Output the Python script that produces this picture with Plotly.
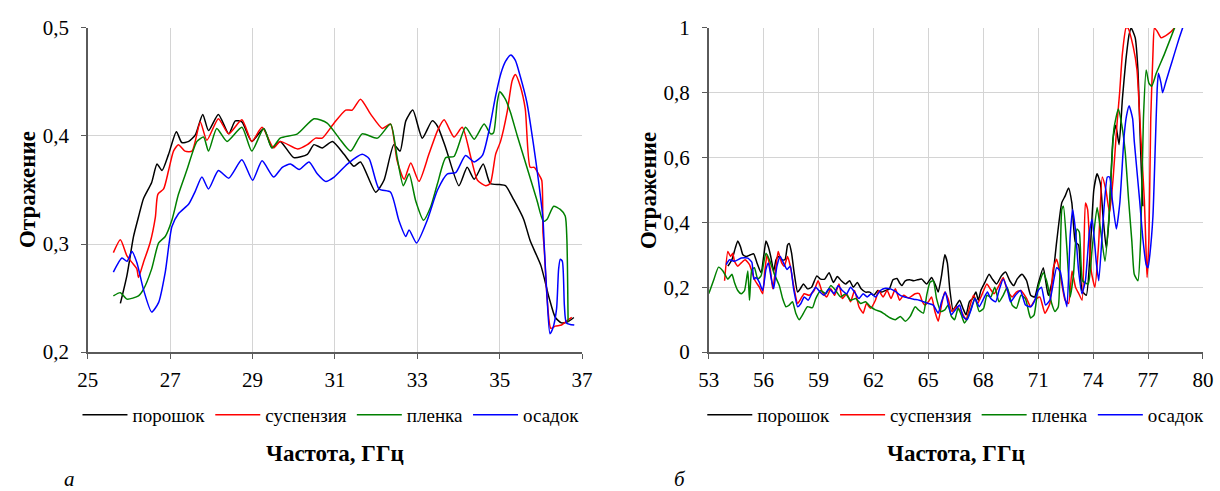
import plotly.graph_objects as go

# ---- Panel "а": 25-37 GHz ----
a_por_f = [25.79, 25.95, 26.11, 26.23, 26.35, 26.55, 26.68, 26.80, 26.96, 27.15, 27.28, 27.45, 27.61, 27.79, 27.93, 28.17, 28.42, 28.58, 28.74, 28.98, 29.27, 29.47, 29.67, 30.0, 30.33, 30.49, 30.69, 30.94, 31.22, 31.46, 31.62, 31.99, 32.19, 32.43, 32.58, 32.72, 32.89, 33.12, 33.36, 33.49, 33.69, 34.01, 34.21, 34.38, 34.60, 34.77, 35.0, 35.14, 35.34, 35.58, 35.74, 36.0, 36.2, 36.35, 36.5, 36.65, 36.8]
a_por_v = [0.245, 0.271, 0.307, 0.325, 0.342, 0.357, 0.374, 0.368, 0.383, 0.404, 0.394, 0.395, 0.401, 0.420, 0.405, 0.420, 0.402, 0.414, 0.413, 0.395, 0.407, 0.389, 0.395, 0.380, 0.383, 0.392, 0.389, 0.395, 0.383, 0.372, 0.376, 0.348, 0.359, 0.392, 0.386, 0.414, 0.424, 0.398, 0.414, 0.409, 0.389, 0.354, 0.371, 0.360, 0.374, 0.356, 0.355, 0.354, 0.341, 0.323, 0.303, 0.28, 0.25, 0.232, 0.227, 0.228, 0.232]

a_sus_f = [25.62, 25.79, 25.95, 26.07, 26.19, 26.23, 26.35, 26.51, 26.64, 26.70, 26.84, 26.96, 27.08, 27.20, 27.36, 27.53, 27.73, 27.89, 28.17, 28.42, 28.74, 28.98, 29.23, 29.51, 29.67, 30.09, 30.33, 30.53, 30.69, 30.98, 31.26, 31.42, 31.62, 31.87, 32.15, 32.35, 32.51, 32.68, 32.84, 33.04, 33.28, 33.49, 33.65, 33.89, 34.09, 34.30, 34.46, 34.66, 34.77, 34.90, 35.02, 35.18, 35.30, 35.38, 35.50, 35.62, 35.74, 35.84, 35.94, 36.02, 36.05, 36.08, 36.15, 36.24, 36.35, 36.5, 36.6, 36.75]
a_sus_v = [0.292, 0.304, 0.289, 0.283, 0.277, 0.269, 0.283, 0.301, 0.325, 0.346, 0.351, 0.368, 0.386, 0.392, 0.386, 0.386, 0.413, 0.396, 0.416, 0.402, 0.415, 0.395, 0.408, 0.389, 0.395, 0.388, 0.392, 0.398, 0.398, 0.412, 0.424, 0.424, 0.434, 0.420, 0.407, 0.411, 0.377, 0.360, 0.375, 0.358, 0.383, 0.405, 0.415, 0.399, 0.408, 0.380, 0.359, 0.354, 0.356, 0.383, 0.395, 0.422, 0.451, 0.457, 0.446, 0.425, 0.371, 0.371, 0.365, 0.359, 0.311, 0.296, 0.25, 0.222, 0.224, 0.225, 0.228, 0.232]

a_pl_f = [25.62, 25.79, 25.95, 26.23, 26.35, 26.55, 26.72, 26.88, 27.04, 27.20, 27.40, 27.65, 27.81, 27.93, 28.13, 28.38, 28.74, 28.98, 29.27, 29.47, 29.67, 30.09, 30.49, 30.81, 31.10, 31.38, 31.66, 32.03, 32.35, 32.51, 32.66, 32.80, 32.96, 33.15, 33.32, 33.49, 33.69, 33.89, 34.17, 34.38, 34.62, 34.78, 34.85, 34.94, 35.0, 35.14, 35.26, 35.42, 35.66, 35.90, 36.06, 36.15, 36.31, 36.47, 36.59, 36.63, 36.66]
a_pl_v = [0.252, 0.255, 0.249, 0.252, 0.258, 0.277, 0.301, 0.307, 0.322, 0.346, 0.368, 0.395, 0.399, 0.386, 0.407, 0.395, 0.408, 0.386, 0.407, 0.389, 0.398, 0.402, 0.416, 0.412, 0.398, 0.386, 0.402, 0.398, 0.411, 0.380, 0.354, 0.365, 0.340, 0.322, 0.334, 0.356, 0.380, 0.381, 0.408, 0.397, 0.411, 0.402, 0.403, 0.431, 0.441, 0.434, 0.422, 0.401, 0.371, 0.341, 0.321, 0.323, 0.335, 0.332, 0.326, 0.305, 0.228]

a_os_f = [25.62, 25.83, 25.95, 26.07, 26.19, 26.35, 26.55, 26.72, 26.88, 27.04, 27.20, 27.45, 27.61, 27.77, 27.93, 28.17, 28.42, 28.74, 29.0, 29.23, 29.51, 29.72, 29.92, 30.13, 30.37, 30.57, 30.77, 30.98, 31.30, 31.66, 31.83, 32.07, 32.35, 32.55, 32.72, 32.80, 32.98, 33.24, 33.49, 33.73, 33.93, 34.17, 34.38, 34.58, 34.74, 34.90, 35.03, 35.14, 35.27, 35.38, 35.50, 35.66, 35.82, 35.94, 36.05, 36.08, 36.15, 36.22, 36.29, 36.38, 36.43, 36.47, 36.52, 36.57, 36.62, 36.81]
a_os_v = [0.274, 0.287, 0.284, 0.293, 0.283, 0.258, 0.237, 0.246, 0.274, 0.316, 0.328, 0.337, 0.349, 0.362, 0.351, 0.368, 0.361, 0.378, 0.359, 0.377, 0.362, 0.371, 0.374, 0.369, 0.376, 0.365, 0.358, 0.362, 0.374, 0.383, 0.379, 0.351, 0.348, 0.322, 0.307, 0.313, 0.301, 0.322, 0.350, 0.365, 0.366, 0.382, 0.376, 0.382, 0.405, 0.437, 0.458, 0.469, 0.475, 0.470, 0.455, 0.431, 0.392, 0.359, 0.323, 0.299, 0.25, 0.217, 0.222, 0.24, 0.277, 0.286, 0.284, 0.243, 0.227, 0.225]

# ---- Panel "б": 53-80 GHz ----
b_por_f = [54.05, 54.27, 54.45, 54.59, 54.74, 54.87, 55.05, 55.28, 55.46, 55.64, 55.86, 56.04, 56.13, 56.26, 56.41, 56.55, 56.68, 56.8, 56.99, 57.17, 57.31, 57.4, 57.53, 57.67, 57.86, 58.0, 58.18, 58.4, 58.62, 58.91, 59.12, 59.34, 59.58, 59.81, 60.03, 60.25, 60.48, 60.7, 60.9, 61.12, 61.33, 61.57, 61.8, 62.02, 62.24, 62.44, 62.66, 62.87, 63.07, 63.29, 63.43, 63.56, 63.74, 63.98, 64.2, 64.41, 64.64, 64.91, 65.18, 65.4, 65.54, 65.72, 65.9, 66.04, 66.17, 66.35, 66.53, 66.71, 66.89, 67.06, 67.24, 67.42, 67.6, 67.73, 67.87, 68.09, 68.32, 68.5, 68.73, 68.99, 69.22, 69.45, 69.67, 69.85, 70.12, 70.37, 70.59, 70.81, 71.0, 71.28, 71.55, 71.77, 72.01, 72.29, 72.47, 72.66, 72.84, 73.03, 73.21, 73.39, 73.63, 73.85, 74.04, 74.22, 74.4, 74.54, 74.72, 74.87, 75.09, 75.24, 75.42, 75.6, 75.79, 75.97, 76.08, 76.3, 76.45, 76.54, 76.63, 76.72]
b_por_v = [0.265, 0.285, 0.32, 0.343, 0.325, 0.30, 0.295, 0.30, 0.303, 0.275, 0.245, 0.31, 0.343, 0.325, 0.29, 0.25, 0.285, 0.295, 0.285, 0.285, 0.33, 0.335, 0.305, 0.245, 0.185, 0.195, 0.21, 0.195, 0.20, 0.235, 0.225, 0.225, 0.245, 0.215, 0.233, 0.22, 0.21, 0.22, 0.20, 0.215, 0.195, 0.185, 0.185, 0.175, 0.19, 0.185, 0.19, 0.195, 0.223, 0.227, 0.213, 0.205, 0.22, 0.223, 0.22, 0.223, 0.225, 0.21, 0.23, 0.205, 0.185, 0.235, 0.30, 0.275, 0.195, 0.13, 0.145, 0.16, 0.135, 0.115, 0.155, 0.165, 0.185, 0.16, 0.19, 0.215, 0.24, 0.225, 0.21, 0.235, 0.247, 0.22, 0.205, 0.225, 0.24, 0.22, 0.175, 0.17, 0.21, 0.26, 0.175, 0.22, 0.34, 0.461, 0.481, 0.506, 0.46, 0.34, 0.33, 0.19, 0.175, 0.32, 0.50, 0.55, 0.52, 0.42, 0.32, 0.41, 0.66, 0.70, 0.64, 0.78, 0.90, 0.98, 1.0, 0.97, 0.87, 0.72, 0.57, 0.45]

b_sus_f = [53.87, 54.05, 54.2, 54.32, 54.41, 54.59, 54.78, 54.99, 55.23, 55.41, 55.54, 55.77, 55.95, 56.08, 56.19, 56.37, 56.5, 56.68, 56.8, 56.99, 57.13, 57.31, 57.46, 57.64, 57.86, 58.04, 58.22, 58.49, 58.76, 58.98, 59.21, 59.45, 59.67, 59.88, 60.12, 60.3, 60.54, 60.75, 60.97, 61.21, 61.44, 61.62, 61.84, 62.11, 62.29, 62.53, 62.75, 62.96, 63.2, 63.43, 63.65, 63.92, 64.28, 64.5, 64.68, 64.82, 65.0, 65.18, 65.36, 65.54, 65.72, 65.9, 66.08, 66.29, 66.53, 66.8, 67.06, 67.24, 67.47, 67.69, 67.91, 68.2, 68.38, 68.59, 68.86, 69.09, 69.31, 69.58, 69.81, 70.06, 70.35, 70.59, 70.81, 71.09, 71.37, 71.64, 71.83, 72.01, 72.2, 72.47, 72.66, 72.85, 73.04, 73.22, 73.4, 73.58, 73.7, 73.9, 74.1, 74.3, 74.5, 74.7, 74.9, 75.1, 75.3, 75.45, 75.6, 75.8, 75.9, 76.2, 76.4, 76.6, 76.8, 76.9, 76.95, 77.05, 77.15, 77.27, 77.35, 77.5, 77.71, 78.07, 78.44, 78.6]
b_sus_v = [0.22, 0.31, 0.295, 0.305, 0.28, 0.265, 0.275, 0.285, 0.27, 0.24, 0.22, 0.20, 0.18, 0.255, 0.30, 0.255, 0.195, 0.265, 0.31, 0.275, 0.265, 0.295, 0.265, 0.205, 0.15, 0.165, 0.18, 0.175, 0.19, 0.22, 0.185, 0.17, 0.195, 0.175, 0.21, 0.165, 0.18, 0.155, 0.19, 0.14, 0.12, 0.15, 0.135, 0.16, 0.19, 0.17, 0.19, 0.165, 0.195, 0.16, 0.175, 0.167, 0.18, 0.18, 0.155, 0.145, 0.155, 0.17, 0.125, 0.095, 0.145, 0.185, 0.165, 0.125, 0.14, 0.125, 0.10, 0.135, 0.175, 0.15, 0.175, 0.21, 0.195, 0.18, 0.205, 0.23, 0.19, 0.17, 0.185, 0.19, 0.167, 0.14, 0.16, 0.17, 0.12, 0.15, 0.26, 0.286, 0.24, 0.16, 0.15, 0.25, 0.20, 0.18, 0.16, 0.46, 0.44, 0.25, 0.20, 0.33, 0.54, 0.50, 0.43, 0.54, 0.70, 0.80, 0.92, 1.0, 1.0, 0.94, 0.87, 0.67, 0.47, 0.30, 0.23, 0.35, 0.72, 0.92, 1.0, 0.99, 0.97, 0.98, 1.0, 1.02]

b_pl_f = [53.0, 53.05, 53.29, 53.54, 53.78, 54.05, 54.27, 54.41, 54.59, 54.78, 54.96, 55.14, 55.23, 55.36, 55.5, 55.68, 55.86, 56.13, 56.32, 56.59, 56.86, 57.04, 57.22, 57.4, 57.58, 57.76, 57.95, 58.13, 58.4, 58.67, 58.85, 59.12, 59.4, 59.67, 59.94, 60.21, 60.48, 60.75, 61.03, 61.3, 61.57, 61.84, 62.11, 62.38, 62.66, 62.93, 63.2, 63.47, 63.74, 64.01, 64.28, 64.46, 64.73, 64.91, 65.09, 65.27, 65.45, 65.68, 65.9, 66.08, 66.26, 66.44, 66.62, 66.8, 66.97, 67.15, 67.37, 67.55, 67.78, 68.02, 68.2, 68.41, 68.63, 68.86, 69.09, 69.31, 69.58, 69.81, 70.06, 70.3, 70.5, 70.59, 70.78, 71.0, 71.28, 71.46, 71.74, 71.92, 72.1, 72.29, 72.38, 72.57, 72.75, 72.93, 73.12, 73.25, 73.43, 73.73, 73.95, 74.22, 74.4, 74.65, 74.87, 75.14, 75.38, 75.57, 75.75, 75.94, 76.12, 76.25, 76.45, 76.6, 76.75, 76.9, 77.05, 77.2, 77.45, 77.9, 78.45, 78.6]
b_pl_v = [0.18, 0.187, 0.225, 0.262, 0.25, 0.225, 0.24, 0.215, 0.19, 0.18, 0.19, 0.25, 0.16, 0.255, 0.26, 0.225, 0.235, 0.305, 0.285, 0.24, 0.205, 0.165, 0.14, 0.145, 0.155, 0.12, 0.10, 0.115, 0.14, 0.137, 0.165, 0.19, 0.18, 0.205, 0.19, 0.17, 0.18, 0.16, 0.165, 0.15, 0.155, 0.14, 0.13, 0.125, 0.115, 0.105, 0.10, 0.11, 0.095, 0.11, 0.14, 0.13, 0.12, 0.175, 0.215, 0.22, 0.165, 0.125, 0.13, 0.145, 0.11, 0.10, 0.135, 0.115, 0.09, 0.105, 0.14, 0.167, 0.125, 0.135, 0.175, 0.17, 0.20, 0.155, 0.175, 0.20, 0.145, 0.135, 0.175, 0.165, 0.12, 0.105, 0.115, 0.20, 0.245, 0.22, 0.15, 0.125, 0.14, 0.44, 0.45, 0.32, 0.17, 0.24, 0.38, 0.37, 0.22, 0.21, 0.32, 0.446, 0.38, 0.28, 0.42, 0.69, 0.75, 0.70, 0.62, 0.47, 0.34, 0.24, 0.22, 0.35, 0.72, 0.87, 0.83, 0.82, 0.86, 0.92, 1.0, 1.02]

b_os_f = [53.96, 54.14, 54.41, 54.78, 55.14, 55.36, 55.47, 55.59, 55.77, 55.95, 56.13, 56.26, 56.41, 56.55, 56.73, 56.91, 57.09, 57.28, 57.46, 57.64, 57.86, 58.04, 58.22, 58.44, 58.67, 58.85, 59.09, 59.3, 59.58, 59.85, 60.07, 60.3, 60.54, 60.75, 60.97, 61.21, 61.44, 61.66, 61.88, 62.11, 62.38, 62.66, 62.93, 63.2, 63.47, 63.83, 64.2, 64.5, 64.74, 65.0, 65.27, 65.54, 65.72, 65.93, 66.08, 66.26, 66.47, 66.71, 66.89, 67.12, 67.33, 67.55, 67.78, 68.02, 68.23, 68.41, 68.68, 68.86, 69.09, 69.31, 69.49, 69.76, 70.03, 70.31, 70.59, 70.78, 71.0, 71.18, 71.4, 71.64, 72.01, 72.2, 72.38, 72.57, 72.75, 72.88, 73.03, 73.21, 73.39, 73.58, 73.8, 73.95, 74.17, 74.31, 74.54, 74.78, 74.9, 75.05, 75.27, 75.46, 75.7, 75.83, 75.97, 76.16, 76.25, 76.54, 76.72, 76.9, 77.0, 77.1, 77.27, 77.4, 77.5, 77.57, 77.71, 77.8, 77.98, 78.17, 78.44, 78.71, 78.89, 79.0]
b_os_v = [0.27, 0.285, 0.28, 0.29, 0.29, 0.277, 0.225, 0.23, 0.215, 0.19, 0.255, 0.275, 0.23, 0.195, 0.265, 0.295, 0.275, 0.255, 0.265, 0.195, 0.14, 0.15, 0.17, 0.16, 0.185, 0.20, 0.185, 0.175, 0.195, 0.18, 0.205, 0.19, 0.18, 0.20, 0.185, 0.165, 0.18, 0.17, 0.18, 0.17, 0.19, 0.197, 0.195, 0.187, 0.175, 0.168, 0.163, 0.16, 0.155, 0.15, 0.145, 0.12, 0.155, 0.185, 0.15, 0.115, 0.13, 0.145, 0.11, 0.10, 0.13, 0.165, 0.14, 0.165, 0.185, 0.165, 0.155, 0.19, 0.225, 0.195, 0.155, 0.175, 0.19, 0.145, 0.14, 0.155, 0.19, 0.20, 0.145, 0.16, 0.26, 0.25, 0.19, 0.14, 0.36, 0.44, 0.38, 0.25, 0.18, 0.22, 0.37, 0.41, 0.28, 0.22, 0.40, 0.54, 0.54, 0.47, 0.38, 0.46, 0.67, 0.73, 0.76, 0.72, 0.65, 0.47, 0.35, 0.27, 0.26, 0.30, 0.42, 0.64, 0.81, 0.86, 0.83, 0.80, 0.835, 0.87, 0.92, 0.97, 1.0, 1.02]

series_names = ["порошок", "суспензия", "пленка", "осадок"]
series_colors = ["#000000", "#ff0000", "#008000", "#0000ff"]

panel_a = [(a_por_f, a_por_v), (a_sus_f, a_sus_v), (a_pl_f, a_pl_v), (a_os_f, a_os_v)]
panel_b = [(b_por_f, b_por_v), (b_sus_f, b_sus_v), (b_pl_f, b_pl_v), (b_os_f, b_os_v)]

a_xticks = [25, 27, 29, 31, 33, 35, 37]
a_yticks = [0.2, 0.3, 0.4, 0.5]
b_xticks = [53, 56, 59, 62, 65, 68, 71, 74, 77, 80]
b_yticks = [0, 0.2, 0.4, 0.6, 0.8, 1]

SERIF = "Liberation Serif"
W, H = 1220, 491
# The page body keeps its 8 px margin, so the whole page is (W+16) x (H+16);
# layout positions below are given in final-image pixels and converted here.
BODY_MARGIN = 8
SX = W / (W + 2 * BODY_MARGIN)
SY = H / (H + 2 * BODY_MARGIN)

fig = go.Figure()
for (f, v), name, color in zip(panel_a, series_names, series_colors):
    fig.add_trace(go.Scatter(x=f, y=v, name=name, mode="lines",
                             line=dict(color=color, width=1.5, shape="spline", smoothing=0.6),
                             xaxis="x", yaxis="y", legend="legend"))
for (f, v), name, color in zip(panel_b, series_names, series_colors):
    fig.add_trace(go.Scatter(x=f, y=v, name=name, mode="lines",
                             line=dict(color=color, width=1.5, shape="spline", smoothing=0.5),
                             xaxis="x2", yaxis="y2", legend="legend2"))

def px_x(p):
    return (p / SX - BODY_MARGIN) / W

def px_y(p):
    return 1 - (p / SY - BODY_MARGIN) / H

axis_common = dict(showgrid=True, gridcolor="#d4d4d4", gridwidth=1,
                   showline=True, linecolor="#5a5a5a", linewidth=1.5,
                   ticks="outside", ticklen=5, tickcolor="#5a5a5a",
                   tickfont=dict(family=SERIF, size=21, color="#000000"),
                   zeroline=False, fixedrange=True)

y_dom = [px_y(354), px_y(24)]
legend_font = dict(family=SERIF, size=19, color="#000000")
fig.update_layout(
    width=W, height=H, autosize=False,
    margin=dict(l=0, r=0, t=0, b=0),
    paper_bgcolor="white", plot_bgcolor="white",
    separators=", ",
    font=dict(family=SERIF),
    xaxis=dict(domain=[px_x(86), px_x(582)], range=[25, 37], tickvals=a_xticks,
               anchor="y", ticklabelstandoff=3, **axis_common),
    yaxis=dict(domain=y_dom, range=[0.2, 0.5], tickvals=a_yticks,
               anchor="x", ticklabelstandoff=8, **axis_common),
    xaxis2=dict(domain=[px_x(709), px_x(1205)], range=[53, 80], tickvals=b_xticks,
                anchor="y2", ticklabelstandoff=3, **axis_common),
    yaxis2=dict(domain=y_dom, range=[0, 1], tickvals=b_yticks,
                anchor="x2", ticklabelstandoff=8, **axis_common),
    legend=dict(orientation="h", x=px_x(330), xanchor="center", y=px_y(418), yanchor="middle",
                font=legend_font, bgcolor="rgba(0,0,0,0)", itemwidth=45),
    legend2=dict(orientation="h", x=px_x(957), xanchor="center", y=px_y(418), yanchor="middle",
                 font=legend_font, bgcolor="rgba(0,0,0,0)", itemwidth=45),
    showlegend=True,
)

title_font = dict(family=SERIF, size=23, color="#000000")
annotations = [
    dict(text="<b>Частота, ГГц</b>", x=px_x(334), y=px_y(457), font=title_font),
    dict(text="<b>Частота, ГГц</b>", x=px_x(957), y=px_y(457), font=title_font),
    dict(text="<b>Отражение</b>", x=px_x(25), y=px_y(189), textangle=-90, font=title_font),
    dict(text="<b>Отражение</b>", x=px_x(648), y=px_y(189), textangle=-90, font=title_font),
    dict(text="<i>а</i>", x=px_x(68), y=px_y(483), font=dict(family=SERIF, size=21, color="#000000")),
    dict(text="<i>б</i>", x=px_x(680), y=px_y(483), font=dict(family=SERIF, size=21, color="#000000")),
]
for ann in annotations:
    fig.add_annotation(xref="paper", yref="paper", showarrow=False,
                       xanchor="center", yanchor="middle", **ann)

fig.write_html("out.html", include_plotlyjs=True,
               config={"displayModeBar": False, "responsive": False})
